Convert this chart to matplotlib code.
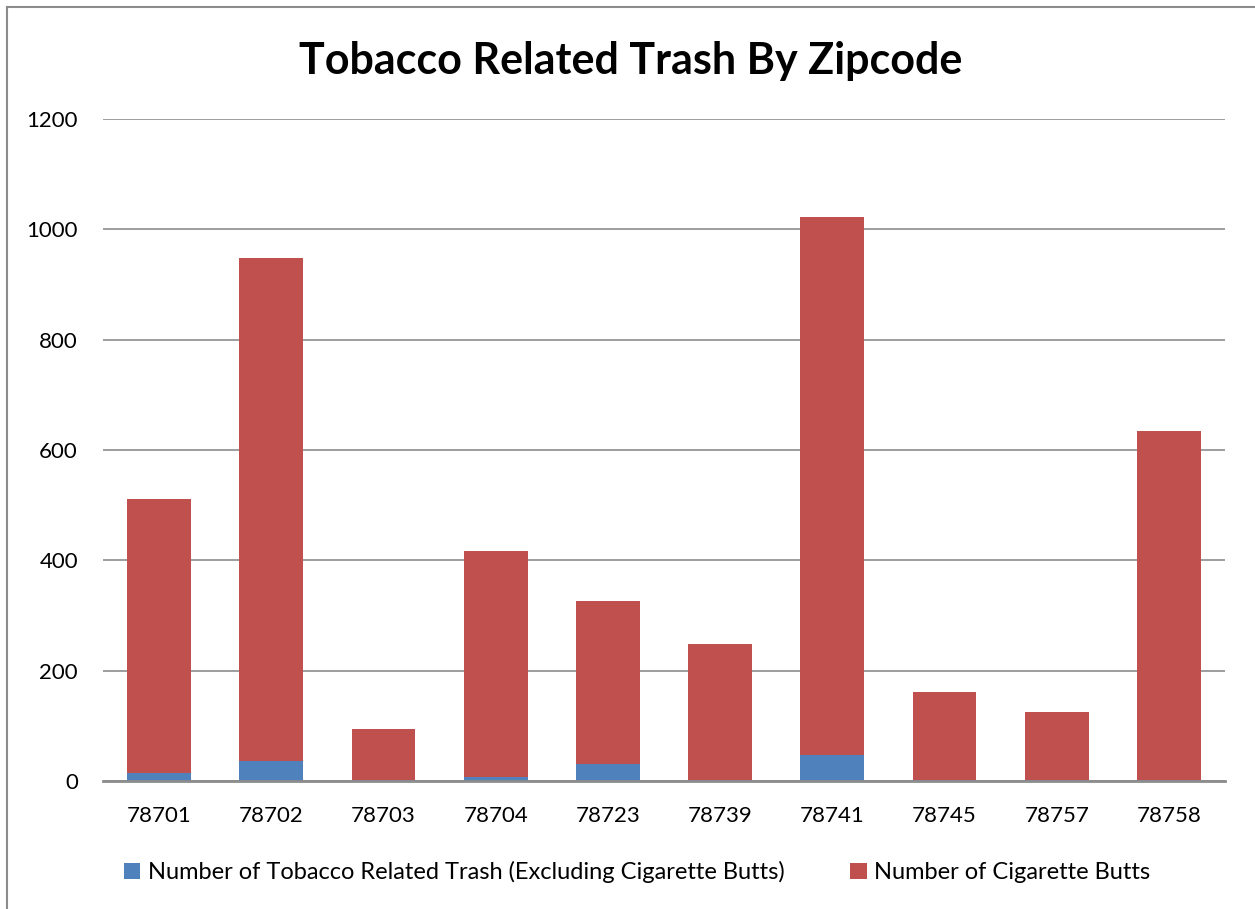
import numpy as np
import matplotlib
matplotlib.use("Agg")
import matplotlib.pyplot as plt
from matplotlib.lines import Line2D

plt.rcParams['font.family'] = ['Lato', 'DejaVu Sans']

zipcodes = ['78701', '78702', '78703', '78704', '78723',
            '78739', '78741', '78745', '78757', '78758']
# other tobacco trash (excluding butts)
other_trash = [14, 36, 1, 7, 31, 2, 47, 2, 1, 1]
# cigarette butts
butts = [497, 912, 93, 410, 295, 246, 975, 159, 124, 633]

BLUE = '#4f81bd'
RED = '#c0504d'

fig = plt.figure(figsize=(12.55, 9.09), dpi=100)
axis = fig.add_axes([103 / 1255, 1 - 781 / 909, 1122 / 1255, 662 / 909])

x = np.arange(len(zipcodes))
axis.bar(x, other_trash, width=0.57, color=BLUE, label='Number of Tobacco Related Trash (Excluding Cigarette Butts)', zorder=3)
axis.bar(x, butts, width=0.57, bottom=other_trash, color=RED, label='Number of Cigarette Butts', zorder=3)

axis.set_xlim(-0.5, len(zipcodes) - 0.5)
axis.set_ylim(0, 1200)
axis.set_yticks(range(0, 1201, 200))
axis.set_xticks(x)
axis.set_xticklabels(zipcodes)
axis.tick_params(axis='both', length=0, labelsize=16, colors='black')
axis.tick_params(axis='x', pad=18)
axis.tick_params(axis='y', pad=18)
axis.yaxis.grid(True, color='#8c8c8c', linewidth=1.2, zorder=0)
for s in ['top', 'right', 'left']:
    axis.spines[s].set_visible(False)
axis.spines['bottom'].set_color('#8c8c8c')
axis.spines['bottom'].set_linewidth(2)
axis.spines['bottom'].set_zorder(4)

fig.text(631 / 1255, 1 - 61 / 909, 'Tobacco Related Trash By Zipcode', ha='center', va='center',
         fontsize=31, fontweight='bold')

leg = fig.legend(loc='center', bbox_to_anchor=(637 / 1255, 1 - 872 / 909), ncol=2, frameon=False,
                 fontsize=17, handlelength=0.7, handleheight=0.7, handletextpad=0.3, columnspacing=2.8)

# outer chart border (left and top edges visible)
fig.add_artist(Line2D([7 / 1255, 7 / 1255], [0, 1 - 7 / 909], color='#8c8c8c', linewidth=1.5))
fig.add_artist(Line2D([7 / 1255, 1], [1 - 7 / 909, 1 - 7 / 909], color='#8c8c8c', linewidth=1.5))

fig.savefig('out.png', dpi=100)
